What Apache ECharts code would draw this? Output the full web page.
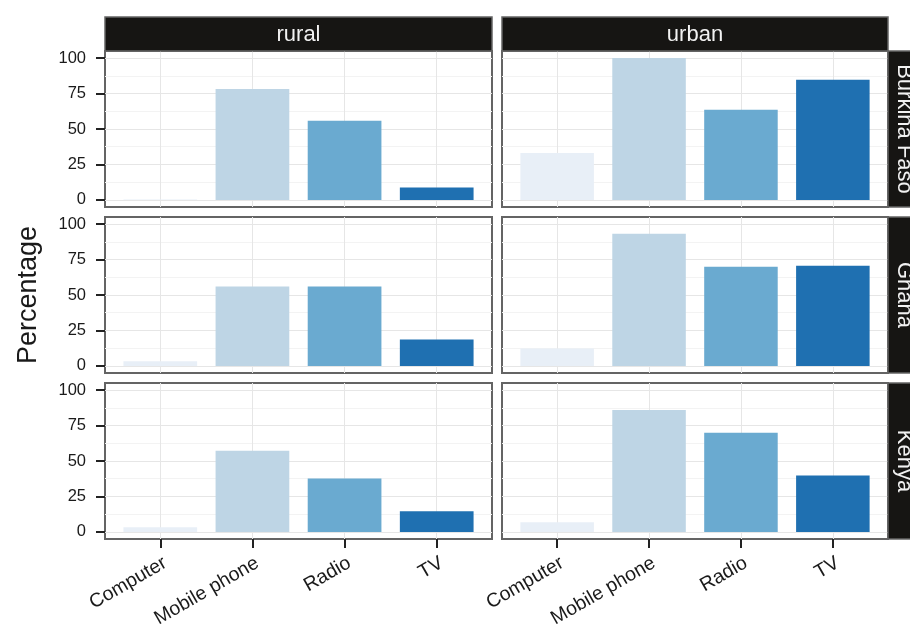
<!DOCTYPE html>
<html>
<head>
<meta charset="utf-8">
<script src="https://cdn.jsdelivr.net/npm/echarts@6/dist/echarts.min.js"></script>
<style>
  html, body { margin: 0; padding: 0; background: #ffffff; }
  #chart { width: 910px; height: 625px; }
</style>
</head>
<body>
<div id="chart"></div>
<script>
// Household ownership of media devices, by country and area (percent)
const categories = ['Computer', 'Mobile phone', 'Radio', 'TV'];
const areas = ['rural', 'urban'];
const countries = ['Burkina Faso', 'Ghana', 'Kenya'];

const burkinaRural = [0.3, 78.2, 55.8, 8.7];
const burkinaUrban = [33.1, 100, 63.6, 84.7];
const ghanaRural = [3.3, 56.0, 56.0, 18.7];
const ghanaUrban = [12.2, 93.2, 70.0, 70.7];
const kenyaRural = [3.3, 57.3, 37.6, 14.5];
const kenyaUrban = [6.8, 86.0, 69.9, 39.7];

const yTicks = [0, 25, 50, 75, 100];
const yMinorTicks = [12.5, 37.5, 62.5, 87.5];
const yTitle = 'Percentage';

// rows = countries, columns = areas
const panelValues = [
  [burkinaRural, burkinaUrban],
  [ghanaRural, ghanaUrban],
  [kenyaRural, kenyaUrban]
];

// ---- layout & style ----
const palette = ['#e8eff7', '#bed5e5', '#6aaad0', '#1f70b1'];
const colX = [105, 502];
const colW = [387, 386];
const rowY = [51, 217, 383];
const rowH = 156;
const stripTop = 17;
const stripH = 34;
const rightStripX = 888;
const font = 'Liberation Sans, Arial, Helvetica, sans-serif';
const gridColor = '#e6e6e6';
const minorGridColor = '#f3f3f3';
const borderColor = '#646464';
const stripFill = '#161513';
const textColor = '#1a1a1a';

const catPositions = categories.map((c, i) => i + 1);

const grids = [], xAxes = [], yAxes = [], series = [];
let g = 0;
for (let r = 0; r < countries.length; r++) {
  for (let c = 0; c < areas.length; c++) {
    const isBottom = r === countries.length - 1;
    const isLeft = c === 0;
    grids.push({
      left: colX[c], top: rowY[r], width: colW[c], height: rowH,
      outerBoundsMode: 'none', containLabel: false,
      show: true, backgroundColor: '#ffffff',
      borderColor: borderColor, borderWidth: 2
    });
    xAxes.push({
      type: 'value', gridIndex: g, min: 0.4, max: 4.6,
      axisLine: { show: false, onZero: false },
      axisTick: {
        show: isBottom, customValues: catPositions, length: 9,
        lineStyle: { color: '#222', width: 2 }
      },
      axisLabel: {
        show: isBottom, customValues: catPositions, rotate: 30,
        align: 'right', verticalAlign: 'top',
        fontSize: 19.5, fontFamily: font, color: textColor, margin: 14,
        formatter: v => categories[Math.round(v) - 1] || ''
      },
      splitLine: { show: true, lineStyle: { color: gridColor, width: 1 } }
    });
    // major gridlines + labels
    yAxes.push({
      type: 'value', gridIndex: g, min: -5, max: 105, position: 'left',
      axisLine: { show: false, onZero: false },
      axisTick: {
        show: isLeft, customValues: yTicks, length: 9,
        lineStyle: { color: '#222', width: 2 }
      },
      axisLabel: {
        show: isLeft, customValues: yTicks, fontSize: 16.5,
        fontFamily: font, color: textColor, margin: 19
      },
      splitLine: { show: true, lineStyle: { color: gridColor, width: 1 } }
    });
    // minor gridlines
    yAxes.push({
      type: 'value', gridIndex: g, min: -5, max: 105, position: 'right',
      axisLine: { show: false, onZero: false },
      axisTick: { show: false, customValues: yMinorTicks },
      axisLabel: { show: false, customValues: yMinorTicks },
      splitLine: { show: true, lineStyle: { color: minorGridColor, width: 1 } }
    });
    const vals = panelValues[r][c];
    series.push({
      type: 'bar', xAxisIndex: g, yAxisIndex: g * 2,
      barWidth: '80%', silent: true, z: 3,
      data: vals.map((v, i) => ({ value: [catPositions[i], v], itemStyle: { color: palette[i] } }))
    });
    g++;
  }
}

// facet strips and the axis title
const graphics = [];
areas.forEach((a, c) => {
  graphics.push({
    type: 'rect', shape: { x: colX[c], y: stripTop, width: colW[c], height: stripH },
    style: { fill: stripFill, stroke: borderColor, lineWidth: 1.5 }, z: 10
  });
  graphics.push({
    type: 'text', x: colX[c] + colW[c] / 2, y: stripTop + stripH / 2 + 1,
    style: { text: a, fill: '#f2f2f2', fontSize: 22, fontFamily: font, align: 'center', verticalAlign: 'middle' },
    z: 11
  });
});
countries.forEach((name, r) => {
  graphics.push({
    type: 'rect', shape: { x: rightStripX, y: rowY[r], width: 34, height: rowH },
    style: { fill: stripFill, stroke: borderColor, lineWidth: 1.5 }, z: 10
  });
  graphics.push({
    type: 'text', x: rightStripX + 16, y: rowY[r] + rowH / 2, rotation: -Math.PI / 2,
    style: { text: name, fill: '#f2f2f2', fontSize: 22, fontFamily: font, align: 'center', verticalAlign: 'middle' },
    z: 11
  });
});
graphics.push({
  type: 'text', x: 29, y: (rowY[0] + rowY[2] + rowH) / 2, rotation: Math.PI / 2,
  style: { text: yTitle, fill: textColor, fontSize: 27, fontFamily: font, align: 'center', verticalAlign: 'middle' },
  z: 11
});

const chart = echarts.init(document.getElementById('chart'), null, { renderer: 'canvas' });
chart.setOption({
  animation: false,
  backgroundColor: '#ffffff',
  grid: grids,
  xAxis: xAxes,
  yAxis: yAxes,
  series: series,
  graphic: graphics
});
</script>
</body>
</html>
